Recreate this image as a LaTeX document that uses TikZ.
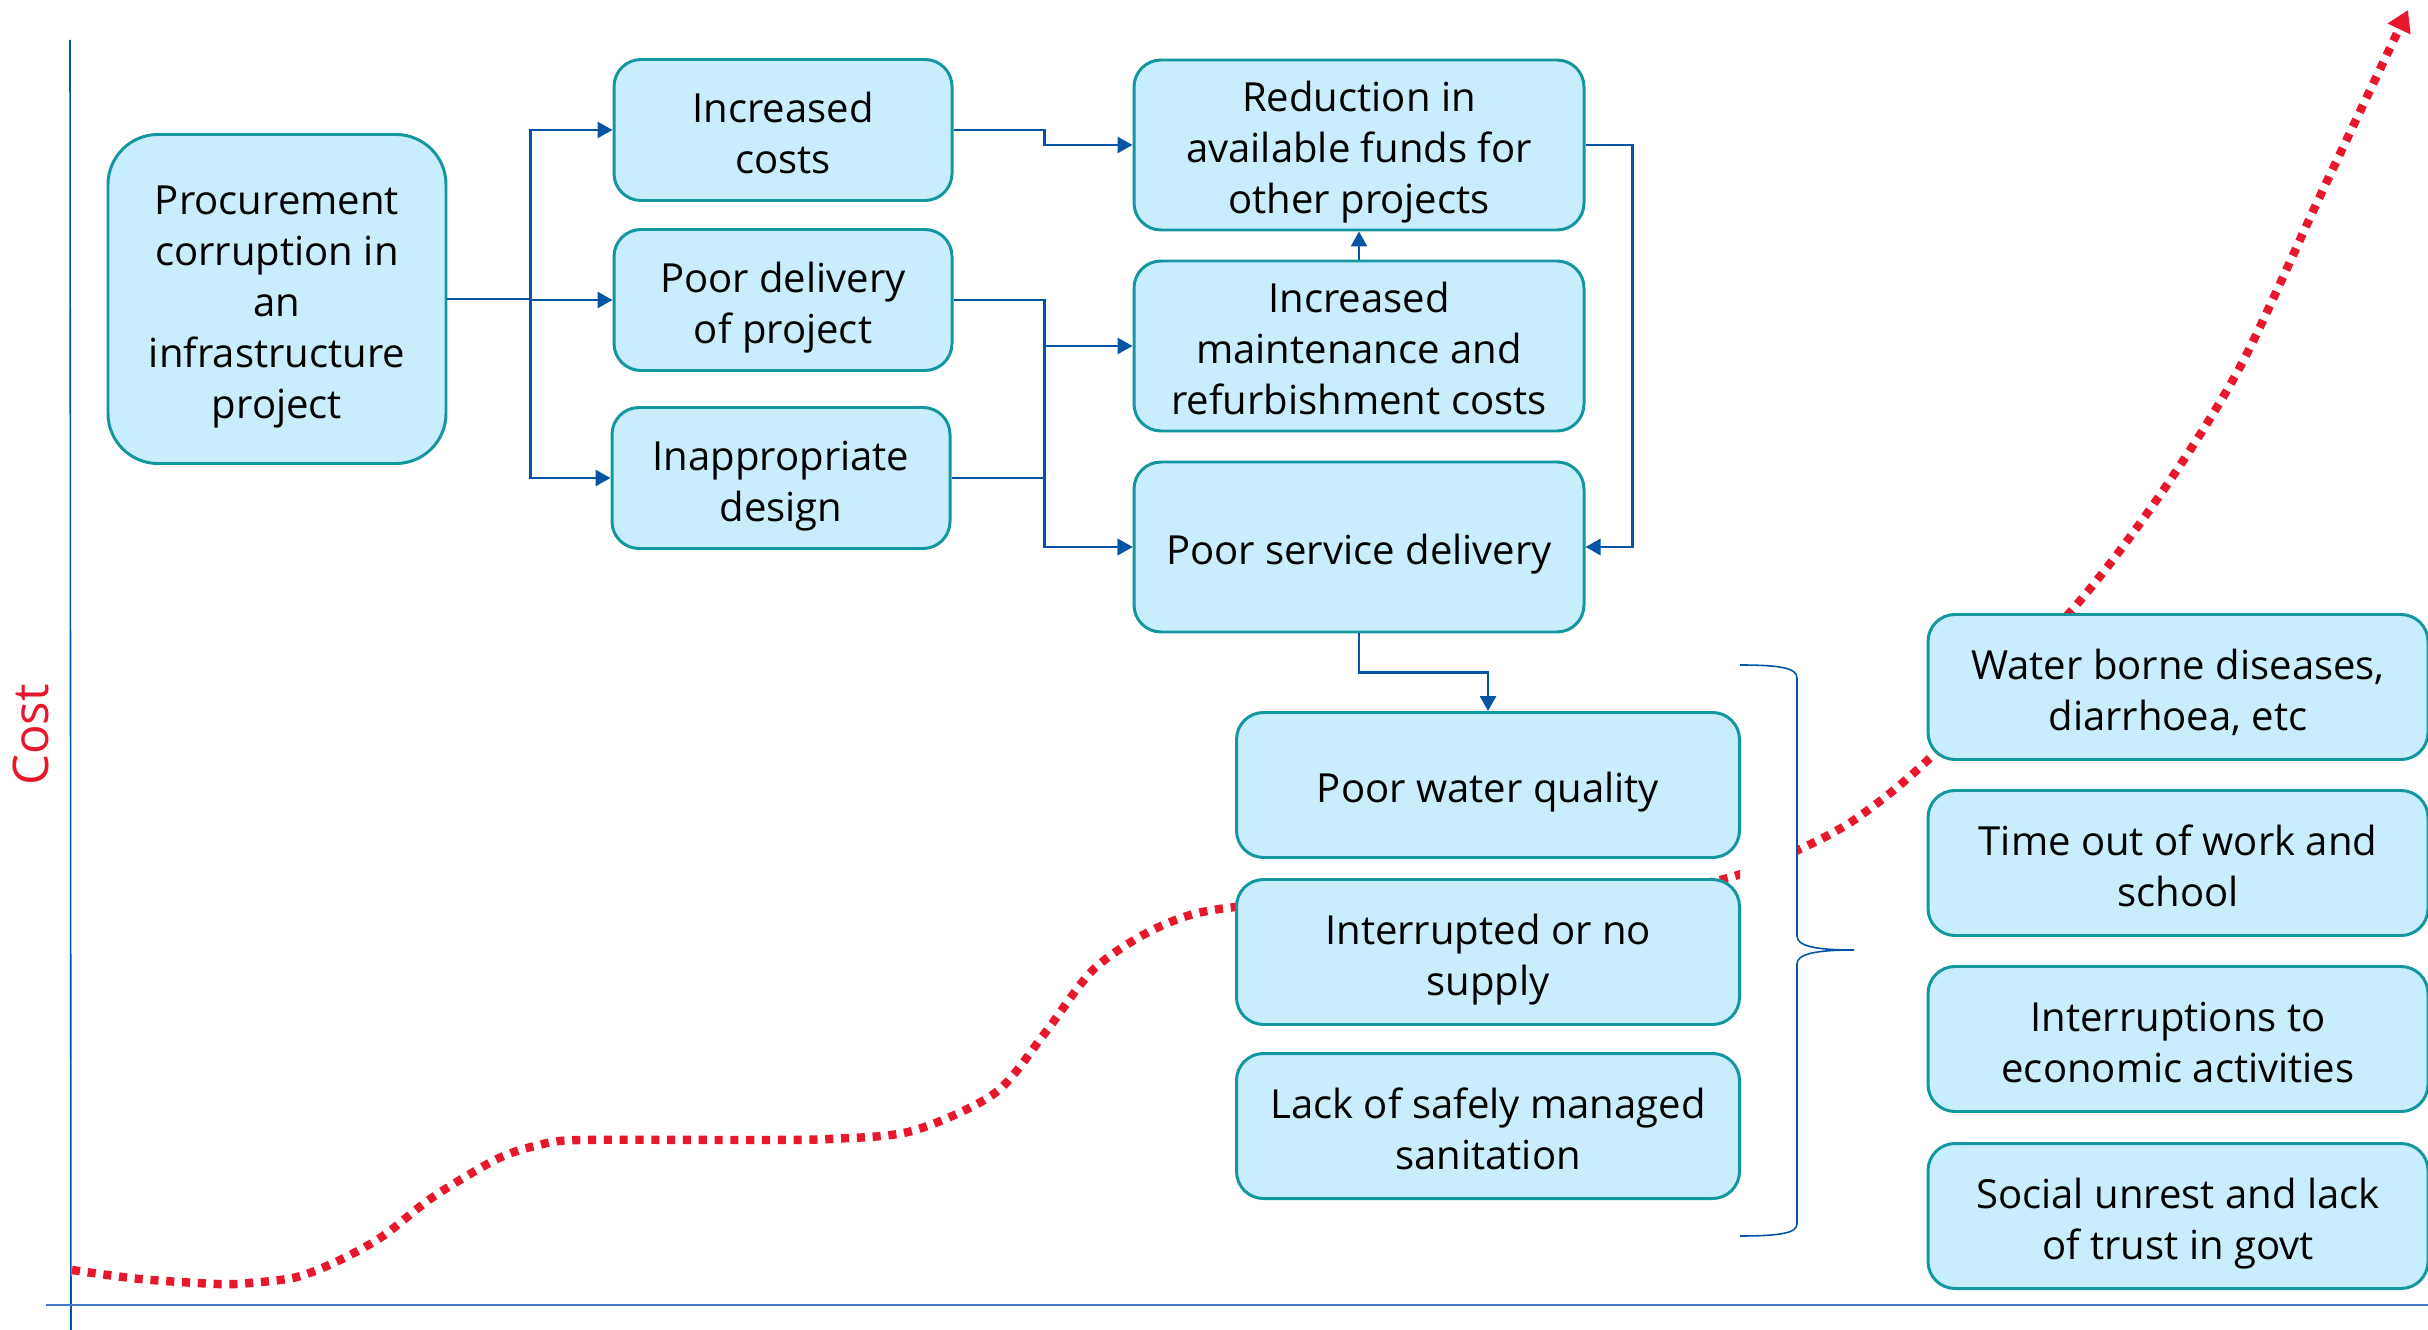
\documentclass[tikz,border=0pt]{standalone}
\usepackage{fontspec}
\setmainfont{Open Sans}
\usetikzlibrary{arrows.meta}
\definecolor{boxfill}{RGB}{200,238,253}
\definecolor{boxline}{RGB}{20,150,160}
\definecolor{linkblue}{RGB}{4,84,166}
\definecolor{costred}{RGB}{232,24,44}
\definecolor{axisblue}{RGB}{68,120,196}
\newcommand\boxtext[1]{\raisebox{-2.2pt}[\height][\depth]{\begin{tabular}{@{}c@{}}#1\end{tabular}}}

\begin{document}
\begin{tikzpicture}[x=0.1mm,y=-0.1mm,
effect box/.style={draw=boxline,fill=boxfill,line width=0.85pt,rounded corners=2.7mm,inner sep=0pt,font=\fontsize{11.4}{14.5}\selectfont},
cause box/.style={effect box,minimum width=33.8mm,minimum height=14.1mm},
mid box/.style={effect box,minimum width=45mm,minimum height=17mm},
supply box/.style={effect box,minimum width=50.3mm,minimum height=14.5mm},
impact box/.style={effect box,minimum width=50mm,minimum height=14.5mm},
flow/.style={-{Triangle[length=1.5mm,width=1.6mm]},line width=0.8pt,draw=linkblue},
cost curve/.style={-{Triangle[length=2.1mm,width=2.4mm]},line width=2.4pt,draw=costred,dash pattern=on 2.3pt off 2.2pt},
brace line/.style={draw=linkblue,line width=0.45pt}]
\useasboundingbox (0,0) rectangle (2428,1330);
\draw[draw=linkblue,line width=0.45pt] (70,40) -- (71,1330);
\draw[draw=axisblue,line width=0.6pt] (46,1305) -- (2428,1305);
\node[rotate=90,text=costred,font=\fontsize{14}{16}\selectfont] (costlabel) at (31,735) {Cost};
\begin{scope}
\clip (0,0) rectangle (1740,1330) (1797,0) rectangle (2428,1330);
\draw[cost curve] plot[smooth,tension=0.5] coordinates {(72,1270) (140,1279) (217,1284) (250,1283) (297,1277) (340,1260) (383,1236) (433,1197) (497,1159) (539,1145) (580,1140) (746,1140) (829,1139) (912,1131) (995,1093) (1045,1033) (1095,968) (1161,926) (1236,907) (1450,897) (1650,889) (1728,878) (1798,850) (1857,818) (1932,756) (2072,610) (2160,495) (2240,367) (2321,194) (2408,10)};
\end{scope}
\node[effect box,minimum width=33.8mm,minimum height=32.9mm,rounded corners=5mm] (proc) at (277,299) {\boxtext{Procurement\\corruption in\\an\\infrastructure\\project}};
\node[cause box] (inccost) at (783,130) {\boxtext{Increased\\costs}};
\node[cause box] (deliv) at (783,300) {\boxtext{Poor delivery\\of project}};
\node[cause box] (design) at (781,478) {\boxtext{Inappropriate\\design}};
\node[mid box] (funds) at (1359,145) {\boxtext{Reduction in\\available funds for\\other projects}};
\node[mid box] (maint) at (1359,346) {\boxtext{Increased\\maintenance and\\refurbishment costs}};
\node[mid box] (svc) at (1359,547) {\boxtext{Poor service delivery}};
\node[supply box] (wq) at (1488,785) {\boxtext{Poor water quality}};
\node[supply box] (supply) at (1488,952) {\boxtext{Interrupted or no\\supply}};
\node[supply box] (sanit) at (1488,1126) {\boxtext{Lack of safely managed\\sanitation}};
\node[impact box] (disease) at (2178,687) {\boxtext{Water borne diseases,\\diarrhoea, etc}};
\node[impact box] (timeout) at (2178,863) {\boxtext{Time out of work and\\school}};
\node[impact box] (economy) at (2178,1039) {\boxtext{Interruptions to\\economic activities}};
\node[impact box] (unrest) at (2178,1216) {\boxtext{Social unrest and lack\\of trust in govt}};
\draw[flow] (proc.east) -- ++(83,0) |- (inccost.west);
\draw[flow] (proc.east) -- ++(83,0) |- (deliv.west);
\draw[flow] (proc.east) -- ++(83,0) |- (design.west);
\draw[flow] (inccost.east) -- ++(91,0) |- (funds.west);
\draw[flow] (deliv.east) -- ++(91,0) |- (maint.west);
\draw[flow] (deliv.east) -- ++(91,0) |- (svc.west);
\draw[flow] (design.east) -- ++(93,0) |- (svc.west);
\draw[flow] (maint.north) -- (funds.south);
\draw[flow] (funds.east) -- ++(47,0) |- (svc.east);
\draw[flow] (svc.south) -- ++(0,39) -| (wq.north);
\draw[brace line] (1740,665) .. controls (1780,665) and (1797,668) .. (1797,678) -- (1797,936) .. controls (1797,946) and (1815,950) .. (1854,950) .. controls (1815,950) and (1797,954) .. (1797,964) -- (1797,1224) .. controls (1797,1233) and (1780,1236) .. (1740,1236);
\end{tikzpicture}
\end{document}
